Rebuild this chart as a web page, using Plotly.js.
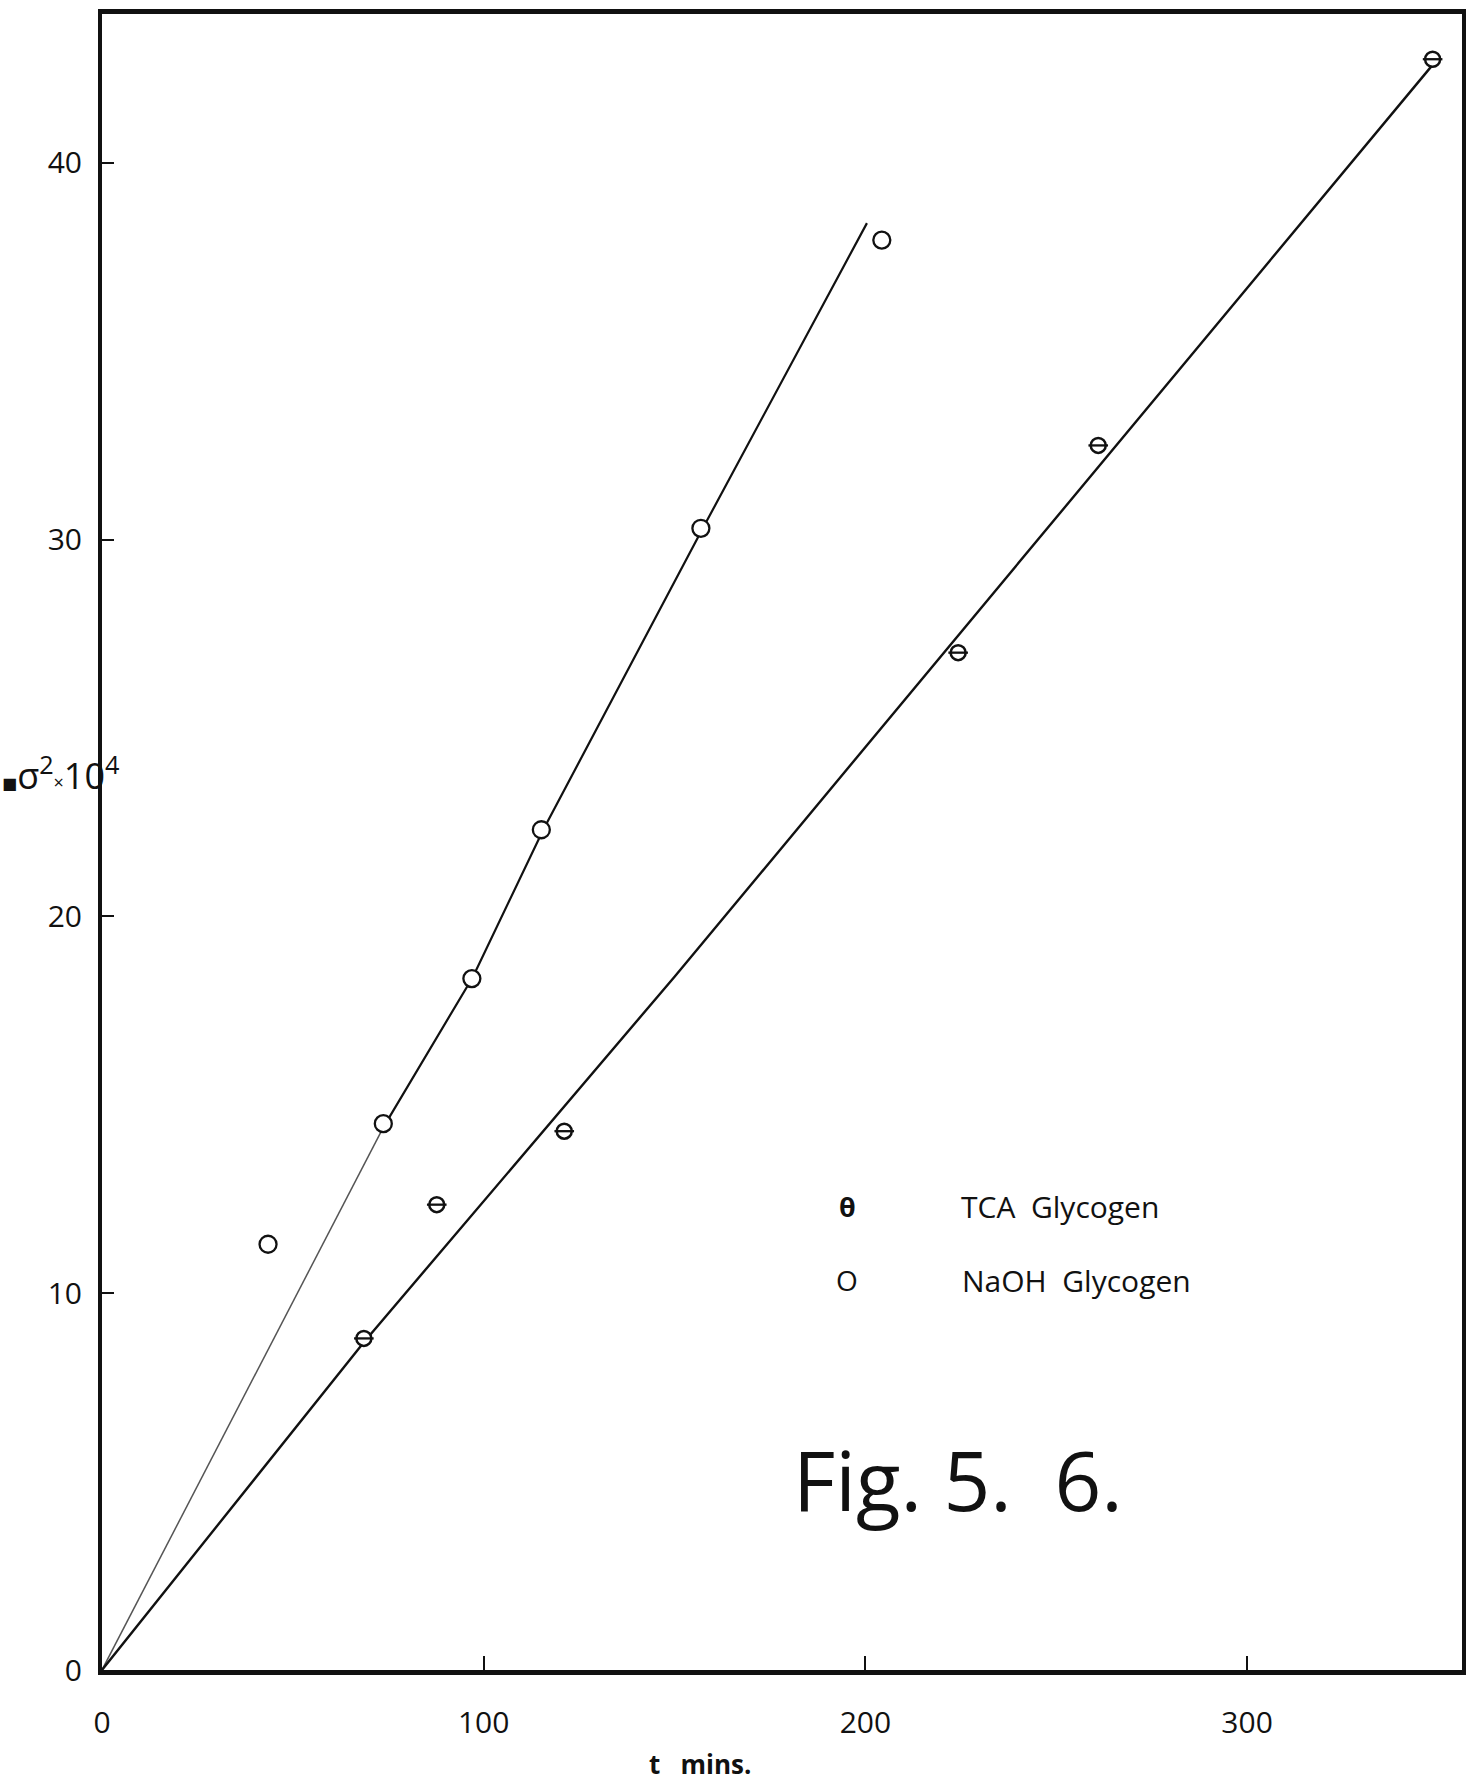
<!DOCTYPE html>
<html>
<head>
<meta charset="utf-8">
<script src="https://cdn.plot.ly/plotly-3.0.1.min.js"></script>
<style>html,body{margin:0;padding:0;background:#fff;}#chart{width:1468px;height:1784px;}</style>
</head>
<body>
<div id="chart"></div>
<script>
// Data
const naohT = [43.5, 73.7, 96.9, 115.1, 156.9, 204.3];
const naohS = [11.3, 14.5, 18.35, 22.3, 30.3, 37.95];
const tcaT = [68.6, 87.7, 121.1, 224.3, 261.0, 348.6];
const tcaS = [8.8, 12.35, 14.3, 27.0, 32.5, 42.75];

// Hand-drawn fitted lines
const naohLowT = [0, 73.7];
const naohLowS = [0, 14.4];
const naohUpT = [73.7, 97.2, 115.6, 157.4, 200.4];
const naohUpS = [14.4, 18.4, 22.3, 30.3, 38.4];
const tcaLineT = [0, 68.6, 150, 348.6];
const tcaLineS = [0, 8.7, 18.4, 42.6];

const xTicks = [0, 100, 200, 300];
const yTicks = [0, 10, 20, 30, 40];

const FONT = "Open Sans, DejaVu Sans, sans-serif";

const traces = [
  {x: naohLowT, y: naohLowS, mode: 'lines', line: {color: '#555', width: 1.5}, hoverinfo: 'skip', showlegend: false},
  {x: naohUpT, y: naohUpS, mode: 'lines', line: {color: '#111', width: 2.2}, hoverinfo: 'skip', showlegend: false},
  {x: tcaLineT, y: tcaLineS, mode: 'lines', line: {color: '#111', width: 2.4}, hoverinfo: 'skip', showlegend: false},
  {x: naohT, y: naohS, mode: 'markers', name: 'NaOH Glycogen',
   marker: {symbol: 'circle', size: 17, color: 'white', line: {color: '#111', width: 2.3}}, showlegend: false},
  {x: tcaT, y: tcaS, mode: 'markers', name: 'TCA Glycogen',
   marker: {symbol: 'circle', size: 15, color: 'white', line: {color: '#111', width: 2.5}}, showlegend: false},
  {x: tcaT, y: tcaS, mode: 'markers', hoverinfo: 'skip',
   marker: {symbol: 'line-ew', size: 14, color: '#111', line: {color: '#111', width: 2.3}}, showlegend: false}
];

const layout = {
  width: 1468, height: 1784,
  margin: {l: 102, r: 6, t: 14, b: 114},
  paper_bgcolor: 'white', plot_bgcolor: 'white',
  font: {family: FONT, color: '#111'},
  xaxis: {
    range: [0, 356.3], tickvals: xTicks, ticktext: xTicks.map(String),
    showgrid: false, zeroline: false,
    showline: true, linecolor: '#111', linewidth: 5, mirror: true,
    ticks: 'inside', ticklen: 14, tickwidth: 2, tickcolor: '#111',
    ticklabelstandoff: 22,
    tickfont: {family: FONT, size: 30, color: '#111'}
  },
  yaxis: {
    range: [0, 43.95], tickvals: yTicks, ticktext: yTicks.map(String),
    showgrid: false, zeroline: false,
    showline: true, linecolor: '#111', linewidth: 4, mirror: true,
    ticks: 'inside', ticklen: 12, tickwidth: 2, tickcolor: '#111',
    ticklabelstandoff: 10,
    tickfont: {family: FONT, size: 30, color: '#111'}
  },
  annotations: [
    {xref: 'x', yref: 'y', x: 195.3, y: 12.3, text: '<b>θ</b>', showarrow: false,
     font: {family: FONT, size: 27, color: '#111'}},
    {xref: 'x', yref: 'y', x: 251.1, y: 12.3, text: 'TCA  Glycogen', showarrow: false,
     font: {family: FONT, size: 30, color: '#111'}},
    {xref: 'x', yref: 'y', x: 195.3, y: 10.35, text: 'O', showarrow: false,
     font: {family: FONT, size: 28, color: '#111'}},
    {xref: 'x', yref: 'y', x: 255.3, y: 10.35, text: 'NaOH  Glycogen', showarrow: false,
     font: {family: FONT, size: 30, color: '#111'}},
    {xref: 'x', yref: 'y', x: 224.3, y: 5.07, text: 'Fig. 5.  6.', showarrow: false,
     font: {family: FONT, size: 82, color: '#111'}},
    {xref: 'paper', yref: 'y', x: -0.0753, xanchor: 'left', y: 23.8, showarrow: false,
     text: '<span style="font-size:16px">■</span>σ<sup>2</sup><span style="font-size:18px">×</span>10<sup>4</sup>',
     font: {family: FONT, size: 36, color: '#111'}},
    {xref: 'paper', yref: 'paper', x: 0.44, y: -0.057, yanchor: 'middle', showarrow: false,
     text: '<b>t   mins.</b>', font: {family: FONT, size: 26, color: '#111'}}
  ]
};

Plotly.newPlot('chart', traces, layout, {displayModeBar: false, staticPlot: true});
</script>
</body>
</html>
